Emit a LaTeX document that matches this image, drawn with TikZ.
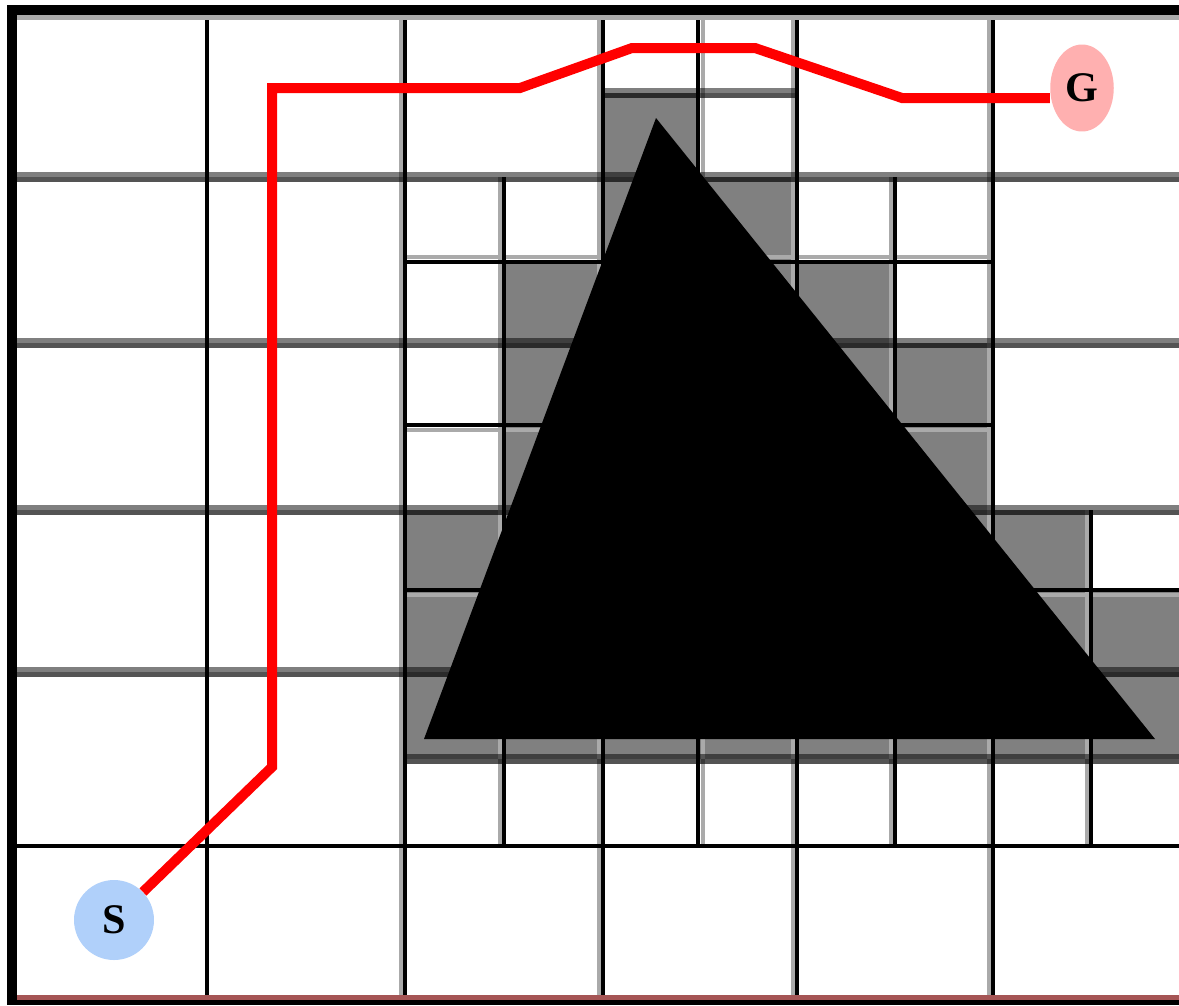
\documentclass[tikz,border=0pt]{standalone}
\usepackage{fontspec}
\setmainfont{Liberation Serif}
\usepackage{tikz}
\usetikzlibrary{shapes.geometric}
\definecolor{cellgray}{RGB}{128,128,128}
\definecolor{shadegray}{RGB}{170,170,170}
\definecolor{startblue}{RGB}{176,208,250}
\definecolor{goalpink}{RGB}{255,176,176}
\definecolor{edgered}{RGB}{165,85,85}
\tikzset{
  cell/.style={fill=cellgray},
  wall/.style={draw=black,line width=0.07cm},
  shade/.style={draw=shadegray,line width=0.08cm},
  bandhi/.style={draw=black,opacity=0.5,line width=0.1cm},
  bandlo/.style={draw=black,opacity=0.67,line width=0.1cm},
  route/.style={draw=red,line width=0.2cm,line join=miter},
  endpt/.style={font=\fontsize{24}{26}\selectfont\bfseries,inner sep=0pt},
}

\begin{document}
\begin{tikzpicture}[x=0.02cm,y=-0.02cm]
  \useasboundingbox (0,0) rectangle (1179,1005);
  \fill[white] (0,0) rectangle (1179,1005);
  \foreach \a/\b/\c/\d in {603/93/698/177,504/262/603/343,603/177/797/343,797/262/895/343,
      504/343/993/510,405/510/1091/672,1091/590/1179/672,405/672/1179/759}{
    \fill[cell] (\a,\b) rectangle (\c,\d);}
  \foreach \x/\ya/\yb in {405/15/1000,603/15/1000,797/15/1000,993/15/1000,504/177/846,895/177/846,1091/510/846}{
    \draw[shade] (\x-4.5,\ya) -- (\x-4.5,\yb);}
  \draw[shade] (702.5,15) -- (702.5,846);
  \foreach \y in {93,177,343,510,672,759}{
    \pgfmathsetmacro{\xa}{(\y==93 || \y==759) ? (\y==93 ? 603 : 405) : 17}
    \pgfmathsetmacro{\xb}{\y==93 ? 797 : 1179}
    \draw[bandhi] (\xa,\y-2.5) -- (\xb,\y-2.5);
    \draw[bandlo] (\xa,\y+2.5) -- (\xb,\y+2.5);}
  \foreach \y/\xa/\xb/\s in {262/405/993/-5,425/405/603/5,425/797/993/5,590/405/603/5,590/993/1179/5}{
    \draw[shade] (\xa,\y+\s) -- (\xb,\y+\s);
    \draw[wall] (\xa,\y) -- (\xb,\y);}
  \draw[wall] (17,846) -- (1179,846);
  \foreach \x in {207,405,603,797,993}{\draw[wall] (\x,15) -- (\x,1000);}
  \foreach \x/\ya/\yb in {698/15/846,504/177/846,895/177/846,1091/510/846}{
    \draw[wall] (\x,\ya) -- (\x,\yb);}
  \fill[black] (656,118) -- (424,739) -- (1155,739) -- cycle;
  \draw[shade,line width=0.1cm] (17,17.5) -- (1179,17.5);
  \draw[edgered,line width=0.1cm] (17,997.5) -- (1179,997.5);
  \draw[line width=0.2cm] (7,10) -- (1179,10);
  \draw[line width=0.2cm] (12,5) -- (12,1005);
  \draw[line width=0.1cm] (7,1002.5) -- (1179,1002.5);
  \node[endpt,circle,fill=startblue,minimum size=1.6cm] (S) at (114,920) {S};
  \node[endpt,ellipse,fill=goalpink,minimum width=1.27cm,minimum height=1.74cm] (G) at (1082,88) {G};
  \coordinate (w1) at (272,767);
  \coordinate (w2) at (272,88);
  \coordinate (w3) at (520,88);
  \coordinate (w4) at (632,48);
  \coordinate (w5) at (755,48);
  \coordinate (w6) at (902,98);
  \draw[route] (S) -- (w1) -- (w2) -- (w3) -- (w4) -- (w5) -- (w6) -- (w6 -| G.west);
\end{tikzpicture}
\end{document}
